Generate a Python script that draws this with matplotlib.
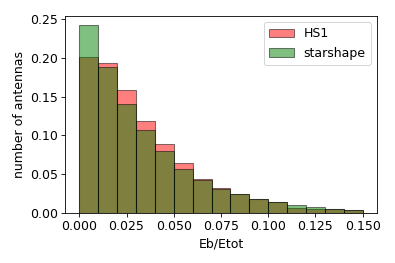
import matplotlib
matplotlib.use("Agg")
import matplotlib.pyplot as plt
import numpy as np

plt.rcParams['font.size'] = 12

# bin edges of Eb/Etot and fraction of antennas per bin
binEdges = np.linspace(0.0, 0.15, 16)
hs1 = [0.2005, 0.1928, 0.1590, 0.1192, 0.0895, 0.0650, 0.0443, 0.0323,
       0.0241, 0.0176, 0.0142, 0.0069, 0.0056, 0.0056, 0.0043]
starshape = [0.2418, 0.1885, 0.1407, 0.1067, 0.0796, 0.0572, 0.0426, 0.0314,
             0.0241, 0.0176, 0.0142, 0.0108, 0.0082, 0.0056, 0.0043]

centers = 0.5 * (binEdges[:-1] + binEdges[1:])

# drawn at 75 dpi so the 12 pt text comes out at 395x263 pixels
fig = plt.figure(figsize=(395 / 75, 263 / 75), dpi=75)
ax = fig.add_axes([0.165, 0.19, 0.789, 0.749])
ax.hist(centers, bins=binEdges, weights=hs1, color='red', alpha=0.5,
        edgecolor='black', label='HS1')
ax.hist(centers, bins=binEdges, weights=starshape, color='green', alpha=0.5,
        edgecolor='black', label='starshape')
ax.set_xticks([0.0, 0.025, 0.05, 0.075, 0.1, 0.125, 0.15])
ax.set_xlabel('Eb/Etot')
ax.set_ylabel('number of antennas')
ax.legend(loc='upper right')

fig.savefig("out.png", dpi=75)
